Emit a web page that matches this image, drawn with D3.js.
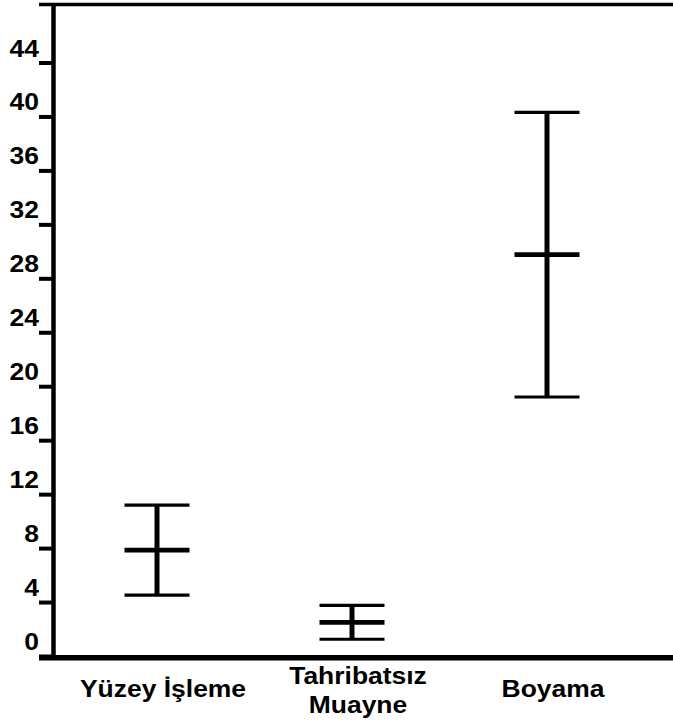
<!DOCTYPE html>
<html>
<head>
<meta charset="utf-8">
<script src="https://cdn.jsdelivr.net/npm/d3@7"></script>
<style>
  html, body { margin: 0; padding: 0; background: #fff; }
  svg { display: block; }
  text { font-family: "Liberation Sans", Arial, sans-serif; font-weight: bold; fill: #000; }
</style>
</head>
<body>
<svg id="chart" width="673" height="724"></svg>
<script>
// Process categories (second line of a label follows "\n")
const categories = ["Yüzey İşleme", "Tahribatsız\nMuayne", "Boyama"];
// Mean value and lower / upper whisker ends for each category
const means = [7.85, 2.5, 29.75];
const lows  = [4.52, 1.24, 19.2];
const highs = [11.19, 3.75, 40.3];
// Y axis tick values
const yTicks = [0, 4, 8, 12, 16, 20, 24, 28, 32, 36, 40, 44];

const svg = d3.select("#chart");
const W = 673;
const fontSize = 24.5;
const stretch = 1.08;   // text is drawn slightly wide

const y = d3.scaleLinear().domain([0, 48.3]).range([656, 4.5]);
const x = d3.scalePoint().domain(categories).range([163, 553]);
const barShift = -6;   // whiskers sit slightly left of the label centre
const capHalf = 32.5;
const axisX = 53.5;

// frame lines: top rule, x axis
svg.append("line").attr("x1", 39).attr("x2", W).attr("y1", y.range()[1]).attr("y2", y.range()[1])
  .attr("stroke", "#000").attr("stroke-width", 3.5);
svg.append("line").attr("x1", 39).attr("x2", W).attr("y1", y(0) + 1.8).attr("y2", y(0) + 1.8)
  .attr("stroke", "#000").attr("stroke-width", 5.5);

// y axis with ticks, labels sitting above each tick
const yAxis = svg.append("g").attr("transform", `translate(${axisX},0)`)
  .call(d3.axisLeft(y).tickValues(yTicks).tickSize(14.5).tickPadding(0).tickFormat(d3.format("d")));
yAxis.select(".domain").remove();
yAxis.append("line").attr("x1", 0).attr("x2", 0).attr("y1", y.range()[1]).attr("y2", y(0) + 4)
  .attr("stroke", "#000").attr("stroke-width", 4.5);
yAxis.selectAll(".tick line").attr("stroke", "#000").attr("stroke-width", 4);
yAxis.selectAll(".tick text")
  .attr("x", null).attr("dy", null)
  .attr("transform", `translate(-14.5,-6.5) scale(${stretch},1)`)
  .attr("font-size", fontSize).attr("font-family", "Liberation Sans, Arial, sans-serif")
  .attr("font-weight", "bold").attr("fill", "#000").attr("text-anchor", "end");

// category labels
const labels = svg.append("g").selectAll("text").data(categories).join("text")
  .attr("transform", d => `translate(${x(d)},${d.includes("\n") ? 684 : 697}) scale(${stretch},1)`)
  .attr("text-anchor", "middle")
  .attr("font-size", fontSize);
labels.each(function (d) {
  const t = d3.select(this);
  d.split("\n").forEach((line, i) => {
    t.append("tspan").attr("x", 0).attr("dy", i === 0 ? 0 : 29).text(line);
  });
});

// error bars: whisker, caps and mean line
const bars = svg.append("g").selectAll("g").data(categories).join("g")
  .attr("transform", d => `translate(${x(d) + barShift},0)`);
bars.append("line").attr("x1", 0).attr("x2", 0)
  .attr("y1", (d, i) => y(highs[i])).attr("y2", (d, i) => y(lows[i]))
  .attr("stroke", "#000").attr("stroke-width", 5);
bars.append("line").attr("x1", -capHalf).attr("x2", capHalf)
  .attr("y1", (d, i) => y(highs[i])).attr("y2", (d, i) => y(highs[i]))
  .attr("stroke", "#000").attr("stroke-width", 3.2);
bars.append("line").attr("x1", -capHalf).attr("x2", capHalf)
  .attr("y1", (d, i) => y(lows[i])).attr("y2", (d, i) => y(lows[i]))
  .attr("stroke", "#000").attr("stroke-width", 3.2);
bars.append("line").attr("x1", -capHalf).attr("x2", capHalf)
  .attr("y1", (d, i) => y(means[i])).attr("y2", (d, i) => y(means[i]))
  .attr("stroke", "#000").attr("stroke-width", 4.8);
</script>
</body>
</html>
